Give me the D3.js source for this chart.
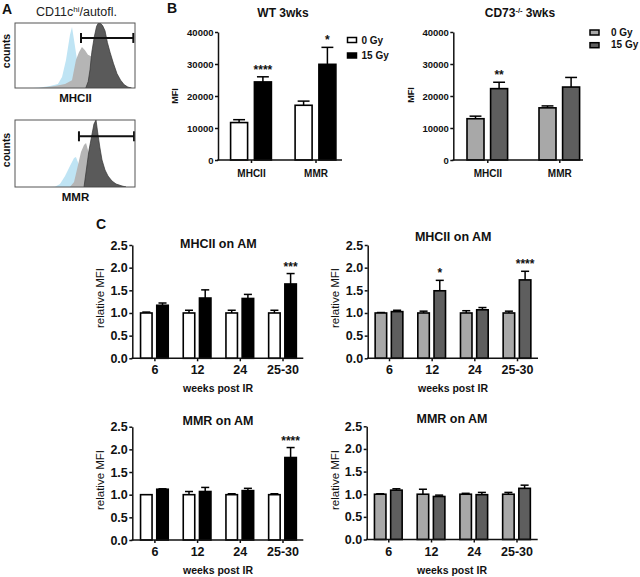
<!DOCTYPE html>
<html><head><meta charset="utf-8">
<script src="https://cdn.jsdelivr.net/npm/d3@7"></script>
<style>body{margin:0;background:#fff} svg{display:block}</style>
</head><body><svg id="c" width="640" height="577"></svg>
<script>
// ---------------- DATA ----------------
// Panel A: flow histograms, [fluorescence (0-100 log units), count (% of max)]
const mhciiCtrl = [[15,0],[20.8,0.8],[29.2,3],[35.8,6],[39.2,17],[42.5,43],[45.8,81.5],[47.5,94],[49.2,74],[51.7,43],[54.2,12],[55.8,0]];
const mhcii0Gy  = [[20,0],[23.3,0.8],[33.3,3],[41.7,6],[47.5,12],[50.8,43],[53.3,55],[55.8,63],[58.3,58],[60.8,51],[64.2,48],[68.3,40],[75,30],[80,23],[85,14],[90,6],[94,1],[96,0]];
const mhcii15Gy = [[59,0],[61,10],[62.5,28],[64,55],[66,78],[68,95],[69.5,100],[71,100],[73,96],[75,88],[77,70],[79.2,55],[82,38],[85,22],[88,12],[91,5],[94,1.5],[97,0]];
const mhciiGate = [55, 98.6, 77];
const mmrCtrl = [[30,0],[33.3,0.5],[37.5,4.5],[41.7,16.4],[45.8,31.3],[49.2,43.3],[50.8,44.8],[53.3,32.8],[55.8,16.4],[58.3,0]];
const mmr0Gy  = [[45.8,0],[49.2,7.5],[52.5,32.8],[55,52.2],[57.5,62.7],[59.2,65.7],[60.8,55.2],[63.3,40.3],[66.7,22.4],[70.8,7.5],[75.8,1.5],[80.8,0]];
const mmr15Gy = [[57.5,0],[60,32.8],[61.7,55.2],[64.2,79.1],[65.8,94],[67.5,100],[69.2,77.6],[70.8,58.2],[72.5,40.3],[75,25.4],[77.5,16.4],[80.8,9],[84.2,4.5],[89.2,1.5],[92.5,0]];
const mmrGate = [53.3, 99.2, 75.7];

// Panel B
const doses = ["0 Gy", "15 Gy"];
const markers = ["MHCII", "MMR"];
const mfiTicks = [0, 10000, 20000, 30000, 40000];
const wt0Mean = [11700, 17100],  wt0Upper = [12600, 18400];
const wt15Mean = [24400, 29900], wt15Upper = [26000, 35200];
const wtStars = ["****", "*"];
const cd0Mean = [12900, 16300],  cd0Upper = [13700, 16900];
const cd15Mean = [22300, 22800], cd15Upper = [24300, 25800];
const cdStars = ["**", ""];

// Panel C
const weeks = ["6", "12", "24", "25-30"];
const relTicks = [0, 0.5, 1.0, 1.5, 2.0, 2.5];
const wtMhc0Mean = [1.0, 1.0, 1.0, 1.0],  wtMhc0Upper = [1.02, 1.06, 1.06, 1.06];
const wtMhc15Mean = [1.17, 1.33, 1.32, 1.64], wtMhc15Upper = [1.22, 1.51, 1.41, 1.87];
const wtMhcStars = ["", "", "", "***"];
const cdMhc0Mean = [1.0, 1.0, 1.0, 1.0],  cdMhc0Upper = [1.01, 1.04, 1.05, 1.04];
const cdMhc15Mean = [1.03, 1.49, 1.07, 1.73], cdMhc15Upper = [1.06, 1.72, 1.12, 1.92];
const cdMhcStars = ["", "*", "", "****"];
const wtMmr0Mean = [1.0, 1.0, 1.0, 1.0],  wtMmr0Upper = [1.0, 1.07, 1.02, 1.02];
const wtMmr15Mean = [1.12, 1.07, 1.09, 1.82], wtMmr15Upper = [1.13, 1.16, 1.14, 2.04];
const wtMmrStars = ["", "", "", "****"];
const cdMmr0Mean = [1.0, 1.0, 1.0, 1.0],  cdMmr0Upper = [1.01, 1.11, 1.02, 1.04];
const cdMmr15Mean = [1.09, 0.95, 0.99, 1.13], cdMmr15Upper = [1.12, 0.98, 1.04, 1.2];
const cdMmrStars = ["", "", "", ""];

// ---------------- DRAW ----------------
const F = '"Liberation Sans", Arial, Helvetica, sans-serif';
const svg = d3.select("#c");
const WHITE = "#ffffff", BLACK = "#000000", LGRAY = "#a8a8a8", DGRAY = "#5e5e5e";

function txt(x, y, s, o = {}) {
  return svg.append("text").attr("x", x).attr("y", y).text(s)
    .attr("font-family", F).attr("font-size", o.size || 11)
    .attr("font-weight", o.weight || "bold").attr("fill", o.fill || "#111")
    .attr("text-anchor", o.anchor || "middle")
    .attr("transform", o.rot ? `rotate(-90,${x},${y})` : null);
}

// Panel A
function histogram(box, layers, gate, id) {
  const x = d3.scaleLinear().domain([0, 100]).range([box.x0, box.x1]);
  const y = d3.scaleLinear().domain([0, 100]).range([box.y1, box.y0]);
  svg.append("clipPath").attr("id", id).append("rect")
    .attr("x", box.x0).attr("y", box.y0).attr("width", box.x1 - box.x0).attr("height", box.y1 - box.y0);
  const g = svg.append("g").attr("clip-path", `url(#${id})`);
  const area = d3.area().x(d => x(d[0])).y0(y(0)).y1(d => y(d[1]));
  layers.forEach(l => g.append("path").datum(l.data).attr("d", area)
    .attr("fill", l.fill).attr("stroke", l.stroke || "none").attr("stroke-width", 0.7));
  const gy = y(gate[2]);
  svg.append("line").attr("x1", x(gate[0])).attr("x2", x(gate[1])).attr("y1", gy).attr("y2", gy)
    .attr("stroke", "#111").attr("stroke-width", 2);
  [gate[0], gate[1]].forEach(v => svg.append("line").attr("x1", x(v)).attr("x2", x(v))
    .attr("y1", gy - 5).attr("y2", gy + 5).attr("stroke", "#111").attr("stroke-width", 2));
  svg.append("rect").attr("x", box.x0).attr("y", box.y0).attr("width", box.x1 - box.x0)
    .attr("height", box.y1 - box.y0).attr("fill", "none").attr("stroke", "#555").attr("stroke-width", 1);
}
histogram({x0: 15, x1: 135, y0: 23, y1: 88},
  [{data: mhciiCtrl, fill: "#bfe4f4"}, {data: mhcii0Gy, fill: "#b5b5b5"}, {data: mhcii15Gy, fill: "#5a5a5a", stroke: "#333"}],
  mhciiGate, "clipA1");
histogram({x0: 15, x1: 135, y0: 120, y1: 187},
  [{data: mmrCtrl, fill: "#bfe4f4"}, {data: mmr0Gy, fill: "#b5b5b5"}, {data: mmr15Gy, fill: "#5a5a5a", stroke: "#333"}],
  mmrGate, "clipA2");

txt(2, 14, "A", {size: 14, anchor: "start"});
const t1 = svg.append("text").attr("x", 76.5).attr("y", 16).attr("text-anchor", "middle")
  .attr("font-family", F).attr("font-size", 12.5).attr("fill", "#222");
t1.append("tspan").text("CD11c");
t1.append("tspan").text("hi").attr("dy", -4.5).attr("font-size", 8);
t1.append("tspan").text("/autofl.").attr("dy", 4.5);
txt(9.5, 51, "counts", {size: 10.5, rot: true});
txt(9.5, 150, "counts", {size: 10.5, rot: true});
txt(75.5, 102, "MHCII", {size: 11.5});
txt(75.5, 201, "MMR", {size: 11.5});

// bar chart helper
function barChart(o) {
  const y = d3.scaleLinear().domain([0, o.yMax]).range([o.yBottom, o.yTop]);
  const x = d3.scalePoint().domain(o.cats).range(o.centers);
  const T = 2 * o.off + o.bw;
  const dose = d3.scaleBand().domain(doses).range([-T / 2, T / 2]).paddingInner((T - 2 * o.bw) / (T - o.bw));
  const bw = dose.bandwidth();
  const g = svg.append("g");
  const series = [{mean: o.m0, upper: o.u0}, {mean: o.m1, upper: o.u1}];
  doses.forEach((d, di) => {
    const s = series[di];
    o.cats.forEach((c, ci) => {
      const bx = x(c) + dose(d), cx = bx + bw / 2;
      if (s.upper[ci] > s.mean[ci] + 1e-9) {
        g.append("line").attr("x1", cx).attr("x2", cx).attr("y1", y(s.mean[ci])).attr("y2", y(s.upper[ci]))
          .attr("stroke", "#000").attr("stroke-width", 1.5);
        g.append("line").attr("x1", bx + bw * 0.15).attr("x2", bx + bw * 0.85)
          .attr("y1", y(s.upper[ci])).attr("y2", y(s.upper[ci])).attr("stroke", "#000").attr("stroke-width", 1.5);
      }
      g.append("rect").attr("x", bx).attr("y", y(s.mean[ci])).attr("width", bw)
        .attr("height", y(0) - y(s.mean[ci])).attr("fill", o.fills[di])
        .attr("stroke", "#000").attr("stroke-width", 1.6);
    });
  });
  o.stars.forEach((st, ci) => {
    if (!st) return;
    g.append("text").attr("x", x(o.cats[ci]) + dose(doses[1]) + bw / 2).attr("y", y(o.u1[ci]) - 3)
      .attr("text-anchor", "middle").attr("font-family", F).attr("font-weight", "bold")
      .attr("font-size", 12).attr("fill", "#111").text(st);
  });
  const ya = g.append("g").attr("transform", `translate(${o.axisX},0)`)
    .call(d3.axisLeft(y).tickValues(o.yTicks).tickFormat(o.fmt).tickSize(3).tickSizeOuter(0).tickPadding(1.5));
  ya.attr("font-family", F).attr("font-weight", "bold").attr("font-size", o.tickFont);
  ya.selectAll("path,line").attr("stroke", "#111").attr("stroke-width", 1.5);
  ya.selectAll("text").attr("fill", "#111");
  g.append("line").attr("x1", o.axisX - 0.75).attr("x2", o.axisEnd).attr("y1", y(0)).attr("y2", y(0))
    .attr("stroke", "#111").attr("stroke-width", 1.5);
  const xa = g.append("g").attr("transform", `translate(0,${y(0)})`)
    .call(d3.axisBottom(x).tickSize(3).tickSizeOuter(0));
  xa.select(".domain").remove();
  xa.attr("font-family", F).attr("font-weight", "bold").attr("font-size", o.catFont);
  xa.selectAll("line").attr("stroke", "#111").attr("stroke-width", 1.5);
  xa.selectAll("text").attr("y", o.catOff).attr("dy", 0).attr("fill", "#111");
}

// Panel B
txt(167, 12.5, "B", {size: 14, anchor: "start"});
const fmtInt = d3.format("d");
barChart({yMax: 40000, yBottom: 160, yTop: 32, yTicks: mfiTicks, fmt: fmtInt, cats: markers,
  centers: [251, 315.5], bw: 17, off: 11.9, fills: [WHITE, BLACK],
  m0: wt0Mean, u0: wt0Upper, m1: wt15Mean, u1: wt15Upper, stars: wtStars,
  axisX: 218, axisEnd: 342, tickFont: 9.5, catFont: 10, catOff: 16.5});
txt(283, 16.5, "WT 3wks", {size: 12});
txt(177.5, 96, "MFI", {size: 9, rot: true});
svg.append("rect").attr("x", 347.5).attr("y", 37.5).attr("width", 9).attr("height", 5).attr("fill", WHITE).attr("stroke", "#000").attr("stroke-width", 1.5);
svg.append("rect").attr("x", 347.5).attr("y", 53).attr("width", 9).attr("height", 5).attr("fill", BLACK).attr("stroke", "#000").attr("stroke-width", 1.5);
txt(361.5, 43.5, doses[0], {size: 10, anchor: "start"});
txt(361.5, 59, doses[1], {size: 10, anchor: "start"});

barChart({yMax: 40000, yBottom: 160, yTop: 32, yTicks: mfiTicks, fmt: fmtInt, cats: markers,
  centers: [487.3, 559.3], bw: 17, off: 11.8, fills: [LGRAY, DGRAY],
  m0: cd0Mean, u0: cd0Upper, m1: cd15Mean, u1: cd15Upper, stars: cdStars,
  axisX: 453.3, axisEnd: 583, tickFont: 9.5, catFont: 10, catOff: 16.5});
const t2 = svg.append("text").attr("x", 520).attr("y", 17).attr("text-anchor", "middle")
  .attr("font-family", F).attr("font-size", 12).attr("font-weight", "bold").attr("fill", "#111");
t2.append("tspan").text("CD73");
t2.append("tspan").text("-/-").attr("dy", -4.5).attr("font-size", 7.5);
t2.append("tspan").text(" 3wks").attr("dy", 4.5);
txt(414, 95, "MFI", {size: 9, rot: true});
svg.append("rect").attr("x", 590).attr("y", 30).attr("width", 9).attr("height", 5).attr("fill", LGRAY).attr("stroke", "#000").attr("stroke-width", 1.5);
svg.append("rect").attr("x", 590).attr("y", 42.7).attr("width", 9).attr("height", 5).attr("fill", DGRAY).attr("stroke", "#000").attr("stroke-width", 1.5);
txt(611, 35.6, doses[0], {size: 10, anchor: "start"});
txt(611, 47.6, doses[1], {size: 10, anchor: "start"});

// Panel C
txt(96, 228.5, "C", {size: 14, anchor: "start"});
const fmt1 = d3.format(".1f");
const cCommon = {yMax: 2.5, yTicks: relTicks, fmt: fmt1, cats: weeks, bw: 11.5, off: 8.1, tickFont: 12.5, catFont: 12.5, catOff: 16};
barChart(Object.assign({}, cCommon, {yBottom: 358.3, yTop: 245, centers: [154.4, 282.5], fills: [WHITE, BLACK],
  m0: wtMhc0Mean, u0: wtMhc0Upper, m1: wtMhc15Mean, u1: wtMhc15Upper, stars: wtMhcStars, axisX: 132.3, axisEnd: 303.3}));
barChart(Object.assign({}, cCommon, {yBottom: 358.3, yTop: 245, centers: [389, 517], fills: [LGRAY, DGRAY],
  m0: cdMhc0Mean, u0: cdMhc0Upper, m1: cdMhc15Mean, u1: cdMhc15Upper, stars: cdMhcStars, axisX: 367.7, axisEnd: 538}));
barChart(Object.assign({}, cCommon, {yBottom: 540, yTop: 426.7, centers: [154.4, 282.5], fills: [WHITE, BLACK],
  m0: wtMmr0Mean, u0: wtMmr0Upper, m1: wtMmr15Mean, u1: wtMmr15Upper, stars: wtMmrStars, axisX: 132.3, axisEnd: 303.3}));
barChart(Object.assign({}, cCommon, {yBottom: 539.5, yTop: 426.3, centers: [388.3, 516.5], fills: [LGRAY, DGRAY],
  m0: cdMmr0Mean, u0: cdMmr0Upper, m1: cdMmr15Mean, u1: cdMmr15Upper, stars: cdMmrStars, axisX: 366.7, axisEnd: 537.7}));

txt(218.3, 247.7, "MHCII on AM", {size: 12.5});
txt(453.2, 240.7, "MHCII on AM", {size: 12.5});
txt(218, 425, "MMR on AM", {size: 12.5});
txt(452, 423, "MMR on AM", {size: 12.5});
[[104, 298], [339, 298], [104, 480], [339, 480]].forEach(p =>
  txt(p[0], p[1], "relative MFI", {size: 11.5, weight: "normal", rot: true}));
[[218, 392], [453, 392], [218, 573.8], [452, 573.8]].forEach(p =>
  txt(p[0], p[1], "weeks post IR", {size: 10.5}));
</script></body></html>
